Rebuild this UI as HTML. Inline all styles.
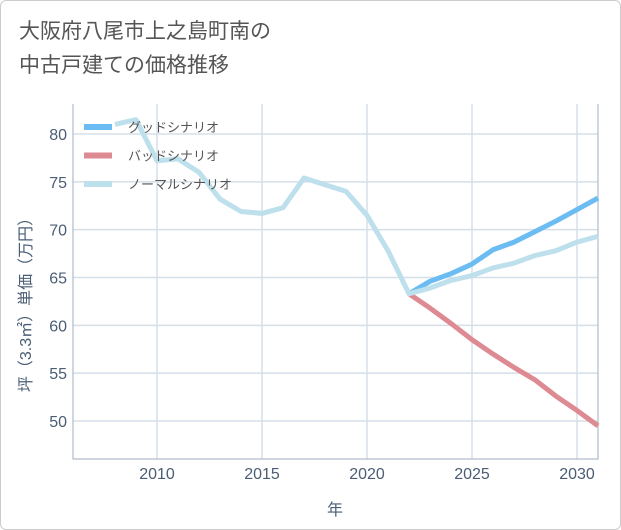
<!DOCTYPE html>
<html><head><meta charset="utf-8"><style>
body{margin:0;background:#fff;}
#wrap{position:relative;width:619px;height:528px;border:1px solid #ccc;border-radius:6px;background:#fff;overflow:hidden;font-family:"Liberation Sans","Noto Sans CJK JP",sans-serif;}
#title{position:absolute;left:18px;top:14px;font-size:21px;line-height:34px;color:#555;}
svg text{font-family:"Liberation Sans","Noto Sans CJK JP",sans-serif;}
</style></head><body>
<div id="wrap">
<div id="title">大阪府八尾市上之島町南の<br>中古戸建ての価格推移</div>
<svg id="chart" width="621" height="530" style="position:absolute;left:0;top:0"></svg>
</div>
<script>
const normalYears=[2008,2009,2010,2011,2012,2013,2014,2015,2016,2017,2018,2019,2020,2021,2022,2023,2024,2025,2026,2027,2028,2029,2030,2031];
const normalValues=[81.0,81.5,77.2,77.4,76.0,73.2,71.9,71.7,72.3,75.4,74.7,74.0,71.5,67.8,63.3,63.9,64.7,65.2,66.0,66.5,67.3,67.8,68.7,69.3];
const forecastYears=[2022,2023,2024,2025,2026,2027,2028,2029,2030,2031];
const goodValues=[63.3,64.6,65.4,66.4,67.9,68.7,69.8,70.9,72.1,73.3];
const badValues=[63.3,61.8,60.2,58.5,57.0,55.6,54.3,52.6,51.1,49.5];
const xTicks=[2010,2015,2020,2025,2030];
const yTicks=[50,55,60,65,70,75,80];
const svg=document.getElementById('chart');
const NS='http://www.w3.org/2000/svg';
const L=72,R=597,T=103,B=458;
const x=v=>156+(v-2010)*21;
const y=v=>133+(80-v)*9.567;
function mk(t,a){const e=document.createElementNS(NS,t);for(const k in a)e.setAttribute(k,a[k]);svg.appendChild(e);return e;}
for(const t of xTicks){const g=mk('line',{x1:x(t),x2:x(t),y1:T,y2:B,stroke:'#d5dfe8','stroke-width':1.5});


const l=mk('text',{x:x(t),y:478,'text-anchor':'middle','font-size':16,fill:'#4a5d75'});l.textContent=t;

}
for(const t of yTicks){const g=mk('line',{x1:L,x2:R,y1:y(t),y2:y(t),stroke:'#d5dfe8','stroke-width':1.5});


const l=mk('text',{x:66,y:y(t)+6,'text-anchor':'end','font-size':16,fill:'#4a5d75'});l.textContent=t;

}
const ax=mk('path',{d:`M${L} ${T}V${B}H${R}V${T}`,fill:'none',stroke:'#b0bccb','stroke-width':1.2});


function line(xs,vs,c,n){const p=mk('polyline',{points:xs.map((a,i)=>x(a)+','+y(vs[i])).join(' '),fill:'none',stroke:c,'stroke-width':5,'stroke-linejoin':'round'});

}
line(forecastYears,badValues,'#de8a93','bad-scenario-line');
line(forecastYears,goodValues,'#6bbcf2','good-scenario-line');
line(normalYears,normalValues,'#bde0ec','normal-scenario-line');
const leg=[['グッドシナリオ','#6bbcf2'],['バッドシナリオ','#de8a93'],['ノーマルシナリオ','#bde0ec']];
leg.forEach((d,i)=>{const yy=126+i*28.5;
const s=mk('line',{x1:83,x2:111,y1:yy,y2:yy,stroke:d[1],'stroke-width':6});


const t=mk('text',{x:127,y:yy+5,'font-size':13,fill:'#555'});t.textContent=d[0];

});
const xt=mk('text',{x:334,y:514,'text-anchor':'middle','font-size':16,fill:'#4a5d75'});xt.textContent='年';


const yt=mk('text',{x:0,y:0,'text-anchor':'middle','font-size':16,fill:'#4a5d75',transform:'translate(30,300) rotate(-90)'});yt.textContent='坪（3.3㎡）単価（万円）';


</script>
</body></html>
